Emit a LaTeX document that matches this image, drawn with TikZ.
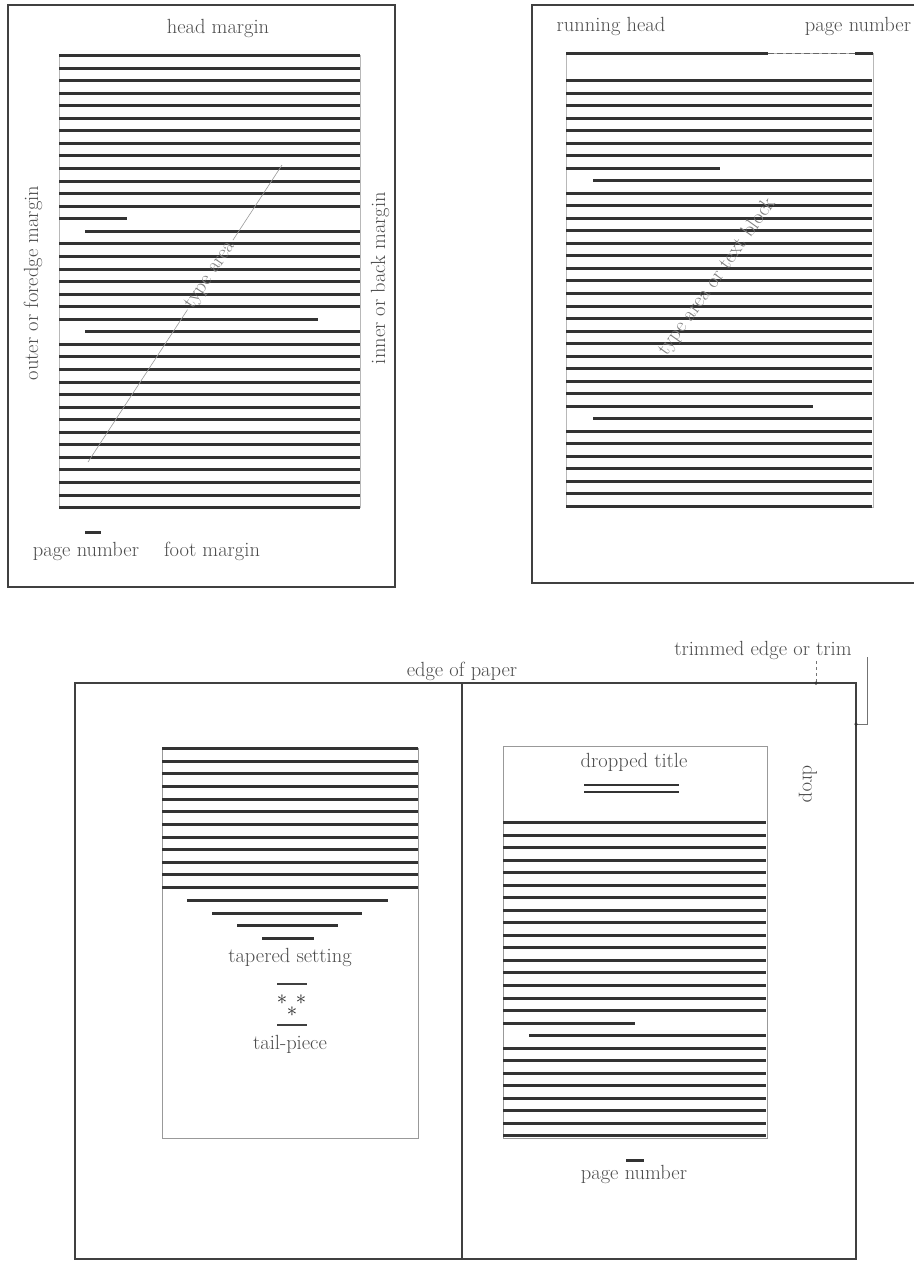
\documentclass[tikz,border=0pt]{standalone}
\usepackage{fontspec}
\usetikzlibrary{calc}
\begin{document}
\begin{tikzpicture}[x=1pt,y=-1pt,
  tl/.style={line width=2.8pt, draw=black!80},
  pg/.style={draw=black!75, line width=1.1pt},
  fr/.style={draw=black!28, line width=0.6pt},
  lbl/.style={font=\fontsize{20.5}{24}\selectfont, text=black!70, inner sep=0pt},
  diag/.style={draw=black!40, line width=0.6pt},
  trimline/.style={draw=black!55, line width=0.7pt},
  dotmark/.style={circle, fill=black!80, inner sep=0pt, minimum size=3.5pt},
  astx/.style={font=\fontsize{20}{20}\selectfont, text=black!85, inner sep=0pt},
  rulex/.style={draw=black!75, line width=1.1pt}]
\useasboundingbox (0,0) rectangle (914,1262);

% ---------- top-left page ----------
\draw[pg] (8,5) rectangle (395,587);
\draw[fr] (59,55) rectangle (360,507);
\foreach \i in {0,...,36}{
  \pgfmathsetmacro{\yy}{round(55+12.56*\i)+0.5}
  \pgfmathsetmacro{\xa}{(\i==14||\i==22)?85:59}
  \pgfmathsetmacro{\xb}{\i==13?127:(\i==21?318:360)}
  \draw[tl] (\xa,\yy) -- (\xb,\yy);
}
\node[lbl] (hm) at (218,28) {head margin};
\node[lbl, rotate=90] (om) at (33,283) {outer or foredge margin};
\node[lbl, rotate=90] (im) at (380,278) {inner or back margin};
\draw[tl] (85,532.5) -- (101,532.5);
\node[lbl] (pn1) at (86,551) {page number};
\node[lbl] (fm) at (212,551) {foot margin};
\coordinate (dA) at (88,462);
\coordinate (dB) at (282,165);
\node[lbl, rotate=56.5, text=black!50, inner sep=3pt] (ta) at ($(dA)!0.63!(dB)$) {type area};
\draw[diag] (dA) -- (ta);
\draw[diag] (ta) -- (dB);

% ---------- top-right page ----------
\draw[pg] (914,5) -- (532,5) -- (532,583) -- (914,583);
\draw[fr] (566,53) rectangle (873,507);
\node[lbl] (rh) at (611,26) {running head};
\node[lbl] (pn2) at (858,26) {page number};
\draw[tl] (566,53.5) -- (768,53.5);
\draw[draw=black!60, line width=0.8pt, dash pattern=on 6pt off 3pt] (768,53.5) -- (855,53.5);
\draw[tl] (855,53.5) -- (873,53.5);
\foreach \i in {0,...,34}{
  \pgfmathsetmacro{\yy}{round(80+12.53*\i)+0.5}
  \pgfmathsetmacro{\xa}{(\i==8||\i==27)?593:566}
  \pgfmathsetmacro{\xb}{\i==7?720:(\i==26?813:872)}
  \draw[tl] (\xa,\yy) -- (\xb,\yy);
}
\node[lbl, rotate=54.5, text=black!50] (tb) at (717,277) {type area or text block};

% ---------- spread ----------
\coordinate (gT) at (462,683);
\coordinate (gB) at (462,1259);
\draw[pg] (75,683) rectangle (856,1259);
\draw[pg] (gT) -- (gB);
\node[lbl] (ep) at (462,671) {edge of paper};
\node[lbl] (te) at (763,650) {trimmed edge or trim};
\coordinate (t1a) at (816,661);
\coordinate (t1) at (816,683);
\draw[trimline, dashed] (t1a) -- (t1);
\node[dotmark] (d1) at (t1) {};
\coordinate (t2a) at (867,657);
\coordinate (t2b) at (867,724);
\coordinate (t2) at (856,724);
\draw[trimline] (t2a) -- (t2b) -- (t2);
\node[dotmark] (d2) at (t2) {};

% left page of spread
\draw[fr, draw=black!40] (162,748) rectangle (418,1138);
\foreach \i in {0,...,11}{
  \pgfmathsetmacro{\yy}{round(748+12.65*\i)+0.5}
  \draw[tl] (162,\yy) -- (418,\yy);
}
\draw[tl] (187,900.5) -- (388,900.5);
\draw[tl] (212,913.5) -- (362,913.5);
\draw[tl] (237,925.5) -- (338,925.5);
\draw[tl] (262,938.5) -- (314,938.5);
\node[lbl] (ts) at (290,957) {tapered setting};
\draw[rulex] (277,984) -- (307,984);
\node[astx] (a1) at (282,1000) {$\ast$};
\node[astx] (a2) at (301,1000) {$\ast$};
\node[astx] (a3) at (292,1012) {$\ast$};
\draw[rulex] (277,1025) -- (307,1025);
\node[lbl] (tp) at (290,1044) {tail-piece};

% right page of spread
\draw[fr, draw=black!40] (503,746) rectangle (767,1138);
\node[lbl] (dt) at (634,762) {dropped title};
\draw[draw=black!80, line width=1.8pt] (584,785) -- (679,785);
\draw[draw=black!80, line width=1.8pt] (584,792) -- (679,792);
\node[lbl, rotate=-90] (dr) at (808,784) {drop};
\foreach \i in {0,...,25}{
  \pgfmathsetmacro{\yy}{round(822+12.54*\i)+0.5}
  \pgfmathsetmacro{\xa}{\i==17?529:503}
  \pgfmathsetmacro{\xb}{\i==16?635:766}
  \draw[tl] (\xa,\yy) -- (\xb,\yy);
}
\draw[tl] (626,1160.5) -- (644,1160.5);
\node[lbl] (pn3) at (634,1174) {page number};
\end{tikzpicture}
\end{document}
